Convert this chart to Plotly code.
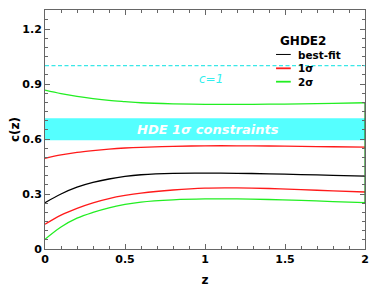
import plotly.graph_objects as go

z = [0, 0.1, 0.2, 0.3, 0.4, 0.5, 0.6, 0.8, 1.0, 1.2, 1.4, 1.6, 1.8, 2.0]
best_fit = [0.253, 0.300, 0.337, 0.363, 0.382, 0.396, 0.405, 0.413, 0.414, 0.413, 0.410, 0.406, 0.402, 0.398]
sig1_up = [0.495, 0.513, 0.527, 0.537, 0.545, 0.551, 0.555, 0.560, 0.563, 0.563, 0.562, 0.560, 0.558, 0.556]
sig1_lo = [0.135, 0.185, 0.222, 0.252, 0.275, 0.292, 0.305, 0.322, 0.332, 0.333, 0.330, 0.324, 0.317, 0.311]
sig2_up = [0.867, 0.848, 0.833, 0.821, 0.811, 0.804, 0.798, 0.792, 0.789, 0.789, 0.790, 0.792, 0.795, 0.798]
sig2_lo = [0.053, 0.120, 0.168, 0.200, 0.225, 0.243, 0.256, 0.268, 0.273, 0.273, 0.270, 0.265, 0.259, 0.253]
hde_band = [0.593, 0.713]
c_one = 1.0
x_ticks = [0, 0.5, 1, 1.5, 2]
x_tick_text = ["0", "0.5", "1", "1.5", "2"]
y_ticks = [0, 0.3, 0.6, 0.9, 1.2]
y_tick_text = ["0", "0.3", "0.6", "0.9", "1.2"]
legend_title = "GHDE2"
legend_names = ["best-fit", "1σ", "2σ"]

FONT = "DejaVu Sans"
BLACK, RED, GREEN, CYAN = "black", "#ff1a1a", "#22ee22", "#3ae8e8"
fig = go.Figure()

fig.add_shape(type="rect", xref="x", yref="y", x0=0, x1=2, y0=hde_band[0], y1=hde_band[1],
              fillcolor="#55ffff", line_width=0, layer="below")
fig.add_shape(type="line", xref="x", yref="y", x0=0, x1=2, y0=c_one, y1=c_one,
              line=dict(color=CYAN, width=1.2, dash="4px,2.5px"))

line_kw = dict(mode="lines", showlegend=False, hoverinfo="skip")
fig.add_trace(go.Scatter(x=z, y=best_fit, line=dict(color=BLACK, width=1.3, shape="spline"), **line_kw))
fig.add_trace(go.Scatter(x=z, y=sig1_up, line=dict(color=RED, width=1.3, shape="spline"), **line_kw))
fig.add_trace(go.Scatter(x=z, y=sig1_lo, line=dict(color=RED, width=1.3, shape="spline"), **line_kw))
fig.add_trace(go.Scatter(x=z, y=sig2_up, line=dict(color=GREEN, width=1.3, shape="spline"), **line_kw))
fig.add_trace(go.Scatter(x=z, y=sig2_lo, line=dict(color=GREEN, width=1.3, shape="spline"), **line_kw))
# closing segment of the 2-sigma contour at the right edge
fig.add_trace(go.Scatter(x=[z[-1], z[-1]], y=[sig2_lo[-1], sig2_up[-1]],
                         line=dict(color="#1a8a1a", width=1.2), **line_kw))

fig.add_annotation(x=1.02, y=(hde_band[0] + hde_band[1]) / 2, xref="x", yref="y",
                   text="<b><i>HDE 1σ constraints</i></b>", showarrow=False,
                   font=dict(family=FONT, size=13, color="white"), xanchor="center", yanchor="middle")
fig.add_annotation(x=1.04, y=0.928, xref="x", yref="y", text="<i>c=1</i>", showarrow=False,
                   font=dict(family=FONT, size=12, color="#33eeee"), yanchor="middle")

# manual legend: one text block (title + entries) and short line samples
pad = "\u00a0" * 5
legend_text = f"<span style='font-size:12px'><b>{legend_title}</b></span>" + "".join(
    f"<br><b>{pad}{n}</b>" for n in legend_names)
fig.add_annotation(x=0.729, y=0.785, xref="paper", yref="paper", text=legend_text,
                   showarrow=False, xanchor="left", yanchor="middle", align="left",
                   font=dict(family=FONT, size=10.4, color="black"))
leg_colors = [BLACK, RED, GREEN]
leg_widths = [1.0, 1.8, 1.8]
leg_y = [0.814, 0.756, 0.700]
for col, lw, yy in zip(leg_colors, leg_widths, leg_y):
    fig.add_shape(type="line", xref="paper", yref="paper", x0=0.722, x1=0.768, y0=yy, y1=yy,
                  line=dict(color=col, width=lw))

axis_common = dict(showline=True, linecolor="#666666", linewidth=1, mirror="allticks",
                   ticks="inside", ticklen=5, tickcolor="#666666", showgrid=False, zeroline=False,
                   automargin=False, tickfont=dict(family=FONT, size=11, color="black"))
fig.update_xaxes(range=[0, 2], tickvals=x_ticks, ticktext=[f"<b>{t}</b>" for t in x_tick_text],
                 minor=dict(ticks="inside", ticklen=3, dtick=0.1, tickcolor="#666666"),
                 title=dict(text="<b>z</b>", font=dict(family=FONT, size=12, color="black"), standoff=12),
                 **axis_common)
fig.update_yaxes(range=[0, 1.304], tickvals=y_ticks, ticktext=[f"<b>{t}</b>" for t in y_tick_text],
                 minor=dict(ticks="inside", ticklen=3, dtick=0.05, tickcolor="#666666"),
                 title=dict(text="<b>c(z)</b>", font=dict(family=FONT, size=12, color="black"), standoff=0),
                 **axis_common)

# page body has an 8px default margin, so the figure is sized/margined to compensate
fig.update_layout(
    width=384, height=279, margin=dict(l=37, r=27, t=2, b=38),
    plot_bgcolor="white", paper_bgcolor="white",
    font=dict(family=FONT, size=11, color="black"),
    showlegend=False,
)

fig.write_html("out.html")
